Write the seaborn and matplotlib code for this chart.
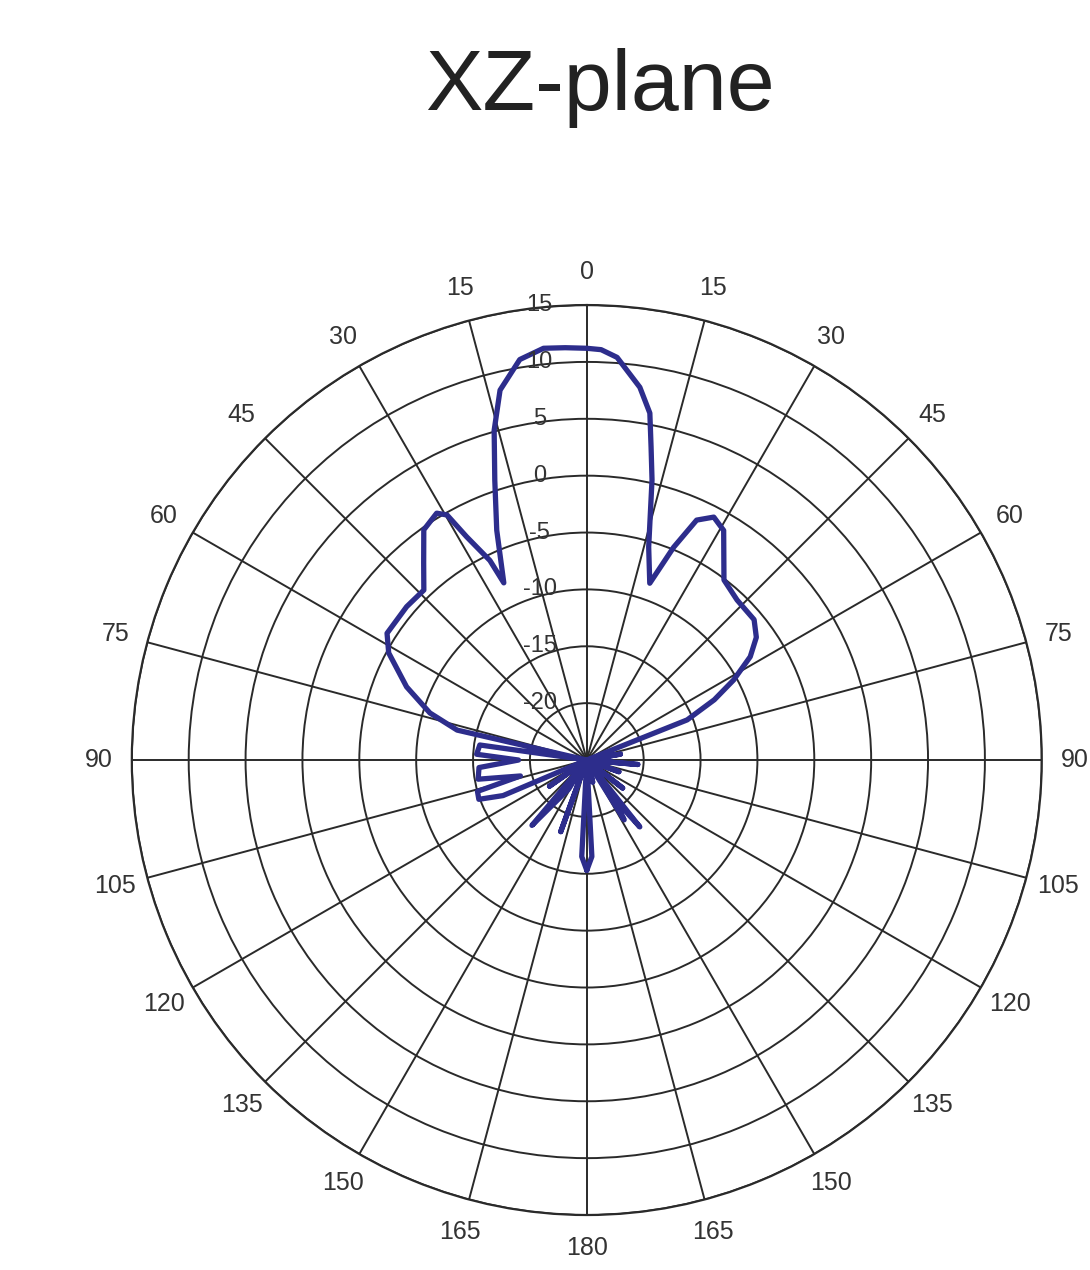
import numpy as np
import pandas as pd
import matplotlib
matplotlib.use('Agg')
import matplotlib.pyplot as plt
import seaborn as sns
from matplotlib.transforms import ScaledTranslation

# pattern: angle (deg, clockwise from top, left side negative) and gain in dB
angle_deg = [-180, -177, -174, -168, -160, -155, -148, -140, -134, -125,
             -118, -113, -110, -106, -103.5, -100, -94, -90, -87, -82,
             -80, -77, -73.3,
             -67.9, -61.6, -57.6, -49.6, -43.8, -39.6, -35.3, -31.3, -29.7, -28.3,
             -25.9, -25.1, -21.4, -18.2, -15.7, -13.2, -9.5, -6, -3, 0,
             2, 4.3, 8.1, 10.3, 11.6, 13.1, 16.2, 19.6, 22.2, 24.6,
             27.6, 30.8, 37.3, 43.2, 50, 54.1, 57.7, 61.4, 64.7, 68.2,
             70, 80, 88, 95, 102, 110, 118, 128, 135, 141.6,
             145, 148, 153, 165, 172, 177, 180]
gain_db = [-15.3, -16.5, -25, -25, -18.3, -25, -22, -17.5, -25, -21,
           -25, -17, -14.9, -15, -19, -15.3, -15.5, -19, -15.3, -15.5,
           -25, -13.3, -10.6,
           -7.9, -5.2, -4.2, -4.2, -4.3, -2.5, -0.2, 0.4, -0.2, -2.7,
           -5.5, -7.8, -3.3, 0.9, 5.1, 8.4, 10.7, 11.4, 11.3, 11.2,
           11.1, 10.5, 8.1, 6.0, 3.1, 0.3, -5.5, -8.5, -4.8, -1.8,
           -0.9, -1.5, -5.1, -5.7, -5.8, -6.6, -8.0, -10.3, -12.6, -15.5,
           -25, -22, -25, -20.5, -25, -22, -25, -21, -25, -17.5,
           -21, -18.8, -25, -23, -25, -16.5, -15.3]

theta_ticks = list(range(0, 360, 15))
theta_labels = [str(a if a <= 180 else 360 - a) for a in theta_ticks]
ring_values = [-20, -15, -10, -5, 0, 5, 10, 15]
r_min, r_max = -25, 15

sns.set_theme(style="white")
plt.rcParams['font.family'] = ['Liberation Sans', 'DejaVu Sans']

df = pd.DataFrame({'theta': np.deg2rad(angle_deg), 'gain': gain_db})

fig = plt.figure(figsize=(10.9, 12.7), dpi=100)
ax = fig.add_axes([0.1209, 0.0433, 0.8349, 0.7165], projection='polar')
ax.set_theta_zero_location('N')
ax.set_theta_direction(-1)

sns.lineplot(data=df, x='theta', y='gain', ax=ax, sort=False,
             color='#2d2d8c', lw=3.8)

ax.set_ylim(r_min, r_max)
ax.set_thetagrids(theta_ticks, theta_labels)
ax.set_yticks(ring_values)
ax.set_yticklabels([])
ax.set_xlabel('')
ax.set_ylabel('')
ax.grid(True, color='#2a2a2a', lw=1.4)
ax.spines['polar'].set_color('#2a2a2a')
ax.spines['polar'].set_linewidth(1.6)
ax.tick_params(axis='x', pad=11, labelsize=18, colors='#333333')

# ring labels sit just left of the 0 deg spoke
shift = ax.transData + ScaledTranslation(-0.47, 0, fig.dpi_scale_trans)
for v in ring_values:
    ax.text(0, v, str(v), transform=shift, ha='center', va='center',
            fontsize=17, color='#333333')

fig.text(0.55, 0.913, 'XZ-plane', ha='center', va='baseline',
         fontsize=62, color='#222222')

fig.savefig('out.png', dpi=100)
